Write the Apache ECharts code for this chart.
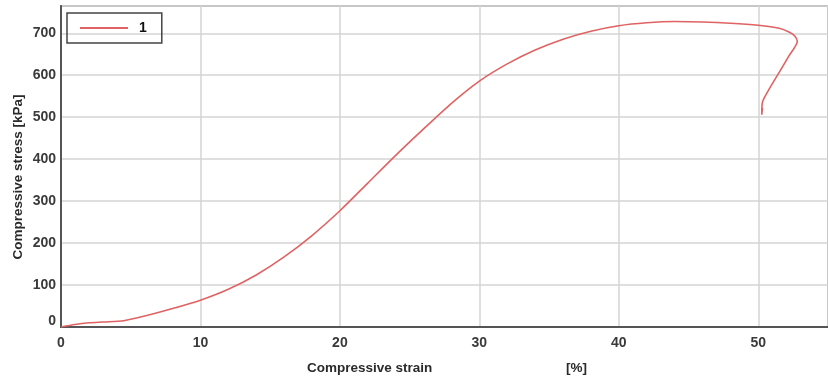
<!DOCTYPE html>
<html>
<head>
<meta charset="utf-8">
<script src="https://cdn.jsdelivr.net/npm/echarts@6/dist/echarts.min.js"></script>
<style>
html,body{margin:0;padding:0;background:#fff;}
#c{width:828px;height:383px;}
</style>
</head>
<body>
<div id="c"></div>
<script>
var seriesName = '1';
var strain = [0, 1, 2, 3, 4.5, 6, 8, 10, 12, 14, 16, 18, 20, 22, 24, 26, 28, 30, 32, 34, 36, 38, 40, 42, 44, 46, 48, 50, 51.5, 52.2, 52.6, 52.8, 52.2, 51.5, 50.8, 50.3, 50.25, 50.3];
var stress = [0, 6, 10, 12, 15, 26, 44, 64, 90, 124, 167, 218, 277, 343, 409, 472, 533, 586, 627, 660, 686, 705, 718, 725, 728, 727, 724, 719, 712, 703, 694, 681, 646, 607, 568, 536, 506, 522];
var xTicks = [0, 10, 20, 30, 40, 50];
var yTicks = [0, 100, 200, 300, 400, 500, 600, 700];

var data = strain.map(function (s, i) { return [s, stress[i]]; });
var chart = echarts.init(document.getElementById('c'), null, {renderer: 'canvas'});
var font = 'Liberation Sans, Arial, sans-serif';
var lineColor = '#e06262';
chart.setOption({
  animation: false,
  backgroundColor: '#fff',
  grid: {left: 61, right: 0, top: 6, bottom: 56, show: true, borderColor: '#a0a0a0', borderWidth: 2, containLabel: false, outerBoundsMode: 'none'},
  legend: {
    left: 67, top: 13, orient: 'horizontal',
    padding: [8, 15, 8, 13],
    borderColor: '#444', borderWidth: 1.5, borderRadius: 0,
    itemWidth: 48, itemHeight: 2, itemGap: 5,
    textStyle: {fontFamily: font, fontWeight: 'bold', fontSize: 14, color: '#111', padding: [0, 0, 0, 6]},
    data: [{name: seriesName, icon: 'rect', itemStyle: {color: lineColor}}]
  },
  xAxis: {
    type: 'value', min: 0, max: 55, interval: 10, offset: 2,
    axisLine: {show: true, lineStyle: {color: '#555', width: 2}},
    axisTick: {show: false},
    splitLine: {show: true, lineStyle: {color: '#d4d4d4', width: 1.5}},
    axisLabel: {
      margin: 7, fontFamily: font, fontWeight: 'bold', fontSize: 14, color: '#3a3a3a',
      formatter: function (v) { return xTicks.indexOf(v) >= 0 ? String(v) : ''; }
    }
  },
  yAxis: {
    type: 'value', min: 0, max: 765, interval: 100,
    axisLine: {show: true, lineStyle: {color: '#555', width: 2}},
    axisTick: {show: false},
    splitLine: {show: true, lineStyle: {color: '#d4d4d4', width: 1.5}},
    axisLabel: {
      margin: 5, fontFamily: font, fontWeight: 'bold', fontSize: 14, color: '#3a3a3a',
      formatter: function (v) {
        if (yTicks.indexOf(v) < 0) return '';
        return v === 0 ? '{z|0}' : String(v);
      },
      rich: {z: {fontFamily: font, fontWeight: 'bold', fontSize: 14, color: '#3a3a3a', padding: [0, 0, 12, 0]}}
    }
  },
  series: [{
    name: seriesName, type: 'line', data: data,
    symbol: 'none', smooth: 0.25,
    lineStyle: {color: lineColor, width: 1.6},
    itemStyle: {color: lineColor}
  }],
  graphic: [
    {type: 'text', x: 18, y: 177, rotation: Math.PI / 2,
     style: {text: 'Compressive stress [kPa]', font: 'bold 13.5px ' + font, fill: '#2a2a2a', align: 'center', verticalAlign: 'middle'}},
    {type: 'text', left: 307, top: 361, style: {text: 'Compressive strain', font: 'bold 13.5px ' + font, fill: '#2a2a2a'}},
    {type: 'text', left: 566, top: 361, style: {text: '[%]', font: 'bold 13.5px ' + font, fill: '#2a2a2a'}}
  ]
});
</script>
</body>
</html>
